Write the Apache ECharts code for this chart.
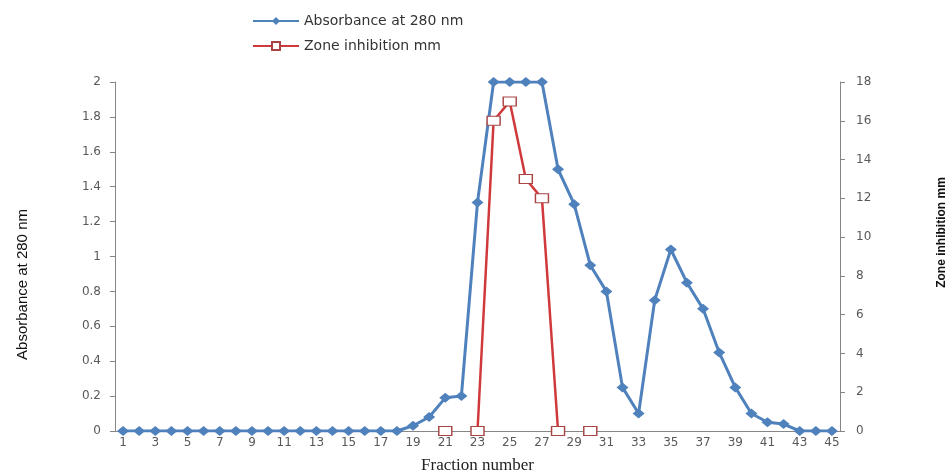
<!DOCTYPE html>
<html>
<head>
<meta charset="utf-8">
<script src="https://cdn.jsdelivr.net/npm/echarts@6/dist/echarts.min.js"></script>
<style>
  html, body { margin: 0; padding: 0; background: #fff; }
  #main { width: 946px; height: 472px; }
</style>
</head>
<body>
<div id="main"></div>
<script>
// fraction numbers 1..45
var fractions = [];
for (var i = 1; i <= 45; i++) fractions.push(String(i));

// absorbance at 280 nm
var absorbance = [0, 0, 0, 0, 0, 0, 0, 0, 0, 0,
                  0, 0, 0, 0, 0, 0, 0, 0, 0.03, 0.08,
                  0.19, 0.2, 1.31, 2, 2, 2, 2, 1.5, 1.3, 0.95,
                  0.8, 0.25, 0.1, 0.75, 1.04, 0.85, 0.7, 0.45, 0.25, 0.1,
                  0.05, 0.04, 0, 0, 0];

// zone of inhibition (mm), only measured fractions
var zone = [null, null, null, null, null, null, null, null, null, null,
            null, null, null, null, null, null, null, null, null, null,
            0, null, 0, 16, 17, 13, 12, 0, null, 0,
            null, null, null, null, null, null, null, null, null, null,
            null, null, null, null, null];

var leftTicks = { min: 0, max: 2, interval: 0.2 };
var rightTicks = { min: 0, max: 18, interval: 2 };

var myChart = echarts.init(document.getElementById('main'));

var axisLabelStyle = { color: '#595959', fontSize: 12, fontFamily: 'Verdana, DejaVu Sans' };

var option = {
    backgroundColor: '#fff',
    animation: false,
    legend: {
        orient: 'vertical',
        left: 247,
        top: 9,
        itemWidth: 46,
        itemHeight: 10,
        itemGap: 11,
        textStyle: { color: '#333', fontSize: 14, fontFamily: 'Verdana, DejaVu Sans' },
        data: ['Absorbance at 280 nm', 'Zone inhibition mm']
    },
    grid: { left: 115, right: 106, top: 82, bottom: 41, outerBoundsMode: 'none' },
    xAxis: {
        type: 'category',
        data: fractions,
        boundaryGap: true,
        name: 'Fraction number',
        nameLocation: 'middle',
        nameGap: 26,
        nameTextStyle: { color: '#222', fontSize: 17, fontFamily: 'Liberation Serif, DejaVu Serif' },
        axisLine: { lineStyle: { color: '#868686', width: 1 } },
        axisTick: { interval: 0, length: 4, lineStyle: { color: '#868686' } },
        axisLabel: Object.assign({ interval: 1, margin: 6 }, axisLabelStyle),
        splitLine: { show: false }
    },
    yAxis: [
        {
            type: 'value',
            min: leftTicks.min,
            max: leftTicks.max,
            interval: leftTicks.interval,
            name: 'Absorbance at 280 nm',
            nameLocation: 'middle',
            nameGap: 85,
            nameTextStyle: { color: '#111', fontSize: 15, fontFamily: 'Liberation Sans Narrow, Liberation Sans', padding: [0, 0, 0, -56] },
            axisLine: { show: true, lineStyle: { color: '#868686' } },
            axisTick: { show: true, length: 5, lineStyle: { color: '#868686' } },
            axisLabel: Object.assign({ margin: 14, formatter: function (v) { return String(Math.round(v * 10) / 10); } }, axisLabelStyle),
            splitLine: { show: false }
        },
        {
            type: 'value',
            min: rightTicks.min,
            max: rightTicks.max,
            interval: rightTicks.interval,
            position: 'right',
            name: 'Zone inhibition mm',
            nameLocation: 'middle',
            nameGap: 96,
            nameRotate: 90,
            nameTextStyle: { color: '#111', fontSize: 12, fontWeight: 'bold', fontFamily: 'Liberation Sans Narrow, Liberation Sans', padding: [0, 0, 0, 48] },
            axisLine: { show: true, lineStyle: { color: '#868686' } },
            axisTick: { show: true, length: 5, lineStyle: { color: '#868686' } },
            axisLabel: Object.assign({ margin: 16 }, axisLabelStyle),
            splitLine: { show: false }
        }
    ],
    series: [
        {
            name: 'Absorbance at 280 nm',
            type: 'line',
            yAxisIndex: 0,
            data: absorbance,
            symbol: 'diamond',
            symbolSize: [12, 10],
            itemStyle: { color: '#4f81bd' },
            lineStyle: { color: '#4f81bd', width: 3 },
            z: 2
        },
        {
            name: 'Zone inhibition mm',
            type: 'line',
            yAxisIndex: 1,
            data: zone,
            connectNulls: false,
            symbol: 'rect',
            symbolSize: [13, 9],
            itemStyle: { color: '#fff', borderColor: '#a84444', borderWidth: 1.2 },
            lineStyle: { color: '#d0393b', width: 2.5 },
            z: 3
        }
    ]
};

myChart.setOption(option);
</script>
</body>
</html>
